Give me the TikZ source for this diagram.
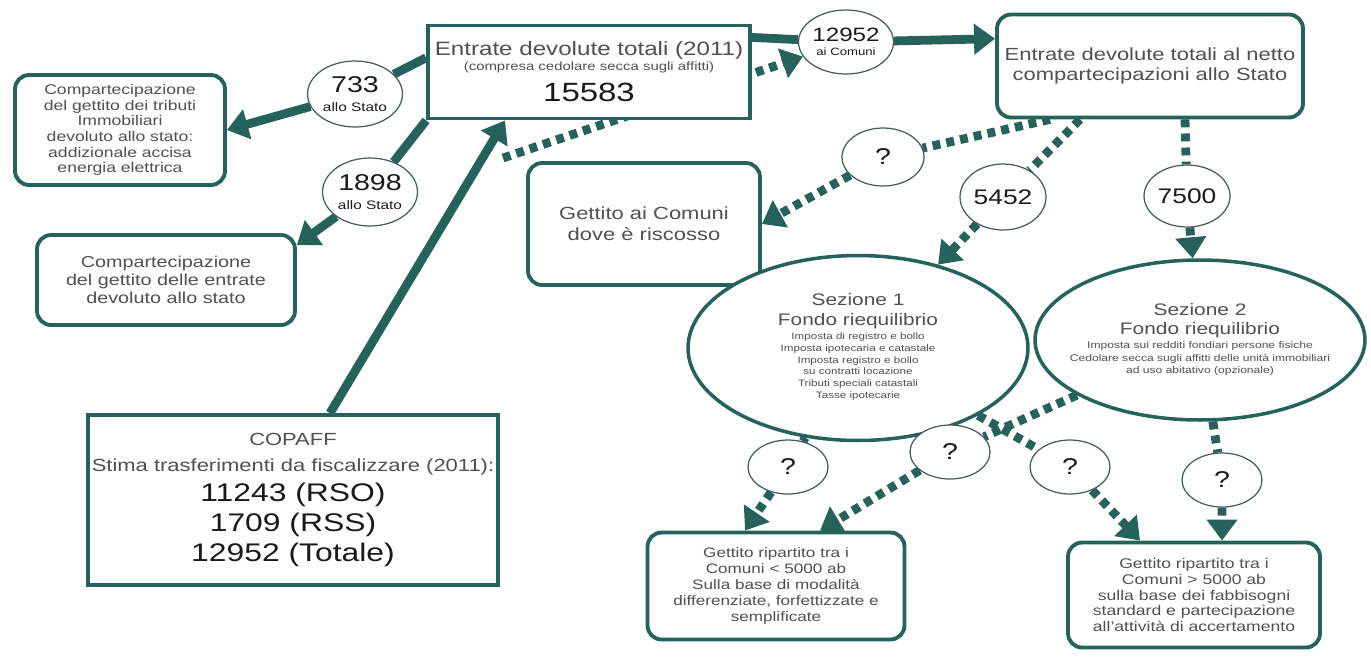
\documentclass[tikz,border=0pt]{standalone}
\usepackage{fontspec}
\setmainfont{Liberation Sans}[FakeStretch=1.25]
\usetikzlibrary{arrows.meta,shapes.geometric,backgrounds}

\definecolor{flowteal}{RGB}{38,98,92}
\definecolor{bubbleline}{RGB}{70,90,88}
\definecolor{desctext}{RGB}{80,80,80}
\definecolor{numtext}{RGB}{25,25,25}

\newcommand{\setfs}[2]{\fontsize{#1}{#2}\selectfont}

\tikzset{
  sqbox/.style={draw=flowteal, line width=2.2pt, fill=white, align=center, inner sep=2pt, text=desctext},
  rbox/.style={sqbox, rounded corners=8pt},
  bubble/.style={ellipse, draw=bubbleline, line width=0.7pt, fill=white, inner sep=0pt, align=center, text=numtext},
  oval/.style={ellipse, draw=flowteal, line width=2pt, fill=white, inner sep=0pt},
  flowline/.style={draw=flowteal, line width=5pt},
  flow/.style={flowline, -{Triangle[length=12pt,width=17pt]}},
  dashline/.style={flowline, dash pattern=on 4.5pt off 3.5pt},
  dashflow/.style={flow, dash pattern=on 4.5pt off 3.5pt},
}

\begin{document}
\begin{tikzpicture}[x=0.02cm,y=-0.02cm]
  \useasboundingbox (0,0) rectangle (1371,657);

  % Total devolved revenue
  \node[sqbox, font=\setfs{11}{7}, minimum width=6.44cm, minimum height=1.86cm] (tot) at (589,72)
    {Entrate devolute totali (2011)\\
     {\setfs{6.8}{7}(compresa cedolare secca sugli affitti)}\\[5pt]
     {\setfs{15}{17}\color{numtext}15583}};

  % Net of the State share
  \node[rbox, font=\setfs{10}{11.5}, minimum width=6.12cm, minimum height=2.06cm] (netto) at (1150,66)
    {Entrate devolute totali al netto\\compartecipazioni allo Stato};

  % State shares (left)
  \node[rbox, font=\setfs{8}{8.9}, minimum width=4.2cm, minimum height=2.2cm] (lefttop) at (120,130)
    {Compartecipazione\\del gettito dei tributi\\Immobiliari\\devoluto allo stato:\\addizionale accisa\\energia elettrica};
  \node[rbox, font=\setfs{9}{10.4}, minimum width=5.16cm, minimum height=1.8cm] (leftmid) at (166,280)
    {Compartecipazione\\del gettito delle entrate\\devoluto allo stato};

  % Revenue kept where collected
  \node[rbox, font=\setfs{10}{12}, minimum width=4.64cm, minimum height=2.44cm] (riscosso) at (644,224)
    {Gettito ai Comuni\\dove è riscosso};

  % COPAFF estimate
  \node[sqbox, font=\setfs{10}{17}, minimum width=8cm, minimum height=3.4cm] (copaff) at (293,500)
    {COPAFF\\[-2pt]
     Stima trasferimenti da fiscalizzare (2011):\\
     {\setfs{14.5}{17}\color{numtext}11243 (RSO)}\\
     {\setfs{14.5}{17}\color{numtext}1709 (RSS)}\\
     {\setfs{14.5}{17}\color{numtext}12952 (Totale)}};

  % Equalisation fund, sections 1 and 2
  \node[oval, minimum width=6.8cm, minimum height=3.7cm,
    label={[align=center, text=desctext, font=\setfs{9.5}{11.3}]center:{Sezione 1\\Fondo riequilibrio\\
      {\setfs{5.3}{6.8}\begin{tabular}{@{}c@{}}Imposta di registro e bollo\\Imposta ipotecaria e catastale\\Imposta registro e bollo\\su contratti locazione\\Tributi speciali catastali\\Tasse ipotecarie\end{tabular}}}}] (sez1) at (858,348) {};
  \node[oval, minimum width=6.6cm, minimum height=3.2cm,
    label={[align=center, text=desctext, font=\setfs{9.5}{11.3}]center:{Sezione 2\\Fondo riequilibrio\\
      {\setfs{5.5}{7}\begin{tabular}{@{}c@{}}Imposta sui redditi fondiari persone fisiche\\Cedolare secca sugli affitti delle unità immobiliari\\ad uso abitativo (opzionale)\end{tabular}}}}] (sez2) at (1200,340) {};

  % Distribution among municipalities
  \node[rbox, font=\setfs{7.8}{9}, minimum width=5.14cm, minimum height=2.14cm] (riparto1) at (776,586)
    {Gettito ripartito tra i\\Comuni < 5000 ab\\Sulla base di modalità\\differenziate, forfettizzate e\\semplificate};
  \node[rbox, font=\setfs{8}{9}, minimum width=5.04cm, minimum height=2.1cm] (riparto2) at (1194,595)
    {Gettito ripartito tra i\\Comuni > 5000 ab\\sulla base dei fabbisogni\\standard e partecipazione\\all'attività di accertamento};

  % Amount bubbles
  \node[bubble, font=\setfs{7}{8}, minimum width=1.9cm, minimum height=1.32cm] (b733) at (355,94)
    {{\setfs{13}{14}733}\\[3pt]allo Stato};
  \node[bubble, font=\setfs{7}{8}, minimum width=1.9cm, minimum height=1.36cm] (b1898) at (370,192)
    {{\setfs{13}{14}1898}\\[3pt]allo Stato};
  \node[bubble, font=\setfs{6}{8}, minimum width=1.9cm, minimum height=1.28cm] (b12952) at (846,42)
    {{\setfs{11}{12}12952}\\ai Comuni};
  \node[bubble, font=\setfs{12}{14}, minimum width=1.72cm, minimum height=1.32cm] (b5452) at (1003,197) {5452};
  \node[bubble, font=\setfs{12}{14}, minimum width=1.72cm, minimum height=1.24cm] (b7500) at (1187,196) {7500};
  \node[bubble, font=\setfs{13}{14}, minimum width=1.64cm, minimum height=1.16cm] (bq0) at (883,157) {?};
  \node[bubble, font=\setfs{13}{14}, minimum width=1.6cm, minimum height=1.08cm] (bq1) at (788,467) {?};
  \node[bubble, font=\setfs{13}{14}, minimum width=1.6cm, minimum height=1.08cm] (bq2) at (950,452) {?};
  \node[bubble, font=\setfs{13}{14}, minimum width=1.6cm, minimum height=1.08cm] (bq3) at (1070,467) {?};
  \node[bubble, font=\setfs{13}{14}, minimum width=1.6cm, minimum height=1.08cm] (bq4) at (1222,480) {?};

  \coordinate (split) at (503,158);

  \begin{scope}[on background layer]
    % solid flows
    \draw[flowline] (tot.12) -- (b12952);
    \draw[flow] (b12952) -- (netto.170);
    \draw[flowline] (tot.175) -- (b733);
    \draw[flow] (b733) -- (lefttop.east);
    \draw[flowline] (tot.south west) -- (b1898);
    \draw[flow] (b1898) -- (leftmid.15);
    \draw[flow] ([xshift=0.74cm]copaff.north) -- ([xshift=-1.68cm]tot.south);

    % dashed flows
    \draw[dashflow] (split) -- (b12952);
    \draw[dashline] ([xshift=-2cm]netto.south) -- (bq0);
    \draw[dashflow] (bq0) -- (riscosso.east);
    \draw[dashline] ([xshift=-1.4cm]netto.south) -- (b5452);
    \draw[dashflow] (b5452) -- (sez1);
    \draw[dashline] ([xshift=0.7cm]netto.south) -- (b7500);
    \draw[dashflow] (b7500) -- (sez2);
    \draw[dashline] (sez1) -- (bq1);
    \draw[dashflow] (bq1) -- ([xshift=-0.62cm]riparto1.north);
    \draw[dashline] (sez2) -- (bq2);
    \draw[dashflow] (bq2) -- ([xshift=0.88cm]riparto1.north);
    \draw[dashline] (sez1) -- (bq3);
    \draw[dashflow] (bq3) -- ([xshift=-1.08cm]riparto2.north);
    \draw[dashline] (sez2) -- (bq4);
    \draw[dashflow] (bq4) -- ([xshift=0.56cm]riparto2.north);
  \end{scope}
\end{tikzpicture}
\end{document}
